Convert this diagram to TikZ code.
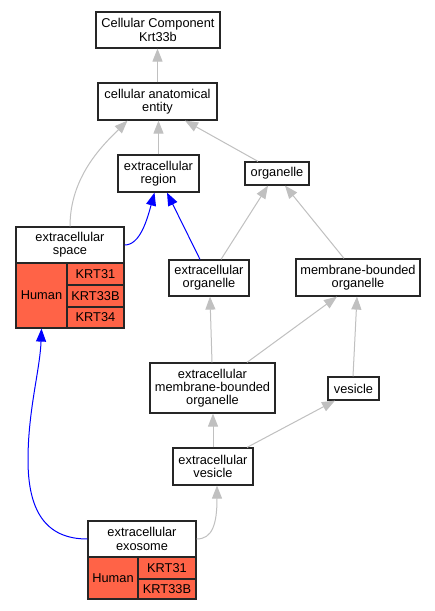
\documentclass[tikz,border=0pt]{standalone}
\usepackage{fontspec}
\setmainfont{Liberation Sans}
\usetikzlibrary{arrows.meta}
\definecolor{tomato}{HTML}{FF6347}
\definecolor{edgegray}{HTML}{C0C0C0}
\begin{document}
\begin{tikzpicture}[x=1pt,y=-1pt,
  box/.style={draw=black!85, line width=1.2pt, fill=white, inner sep=0pt, align=center,
    font=\fontsize{12.8pt}{13.2pt}\selectfont},
  cell/.style={box, fill=tomato},
  tip/.style={-{Triangle[length=13pt,width=10pt]}},
  gedge/.style={draw=edgegray, line width=1pt, tip},
  bedge/.style={draw=blue, line width=1pt, tip},
]
\path[fill=white] (0,0) rectangle (435,611);
\useasboundingbox (0,0) rectangle (435,611);

% nodes
\node[box, minimum width=124pt, minimum height=36pt] (top) at (158,30) {Cellular Component\\Krt33b};
\node[box, minimum width=119pt, minimum height=37pt] (cae) at (157.5,101.5) {cellular anatomical\\entity};
\node[box, minimum width=81pt, minimum height=37pt] (er) at (158.5,173.5) {extracellular\\region};
\node[box, minimum width=64pt, minimum height=23pt] (org) at (277,173.5) {organelle};

\node[box, minimum width=108pt, minimum height=36pt] (es) at (70,245) {extracellular\\space};
\node[cell, minimum width=51pt, minimum height=65pt] (eshum) at (41.5,295.5) {Human};
\node[cell, minimum width=57pt, minimum height=22pt] (esk1) at (95.5,274) {KRT31};
\node[cell, minimum width=57pt, minimum height=22pt] (esk2) at (95.5,296) {KRT33B};
\node[cell, minimum width=57pt, minimum height=21pt] (esk3) at (95.5,317.5) {KRT34};

\node[box, minimum width=80pt, minimum height=36pt] (eo) at (209,278) {extracellular\\organelle};
\node[box, minimum width=124pt, minimum height=37pt] (mbo) at (358,277.5) {membrane-bounded\\organelle};
\node[box, minimum width=125pt, minimum height=50pt] (embo) at (212.5,388) {extracellular\\membrane-bounded\\organelle};
\node[box, minimum width=51pt, minimum height=23pt] (ves) at (353.5,388.5) {vesicle};
\node[box, minimum width=80pt, minimum height=37pt] (ev) at (213,466.5) {extracellular\\vesicle};

\node[box, minimum width=108pt, minimum height=36pt] (exo) at (142,539) {extracellular\\exosome};
\node[cell, minimum width=50pt, minimum height=42pt] (exohum) at (113,578) {Human};
\node[cell, minimum width=58pt, minimum height=22pt] (exok1) at (167,568) {KRT31};
\node[cell, minimum width=58pt, minimum height=20pt] (exok2) at (167,589) {KRT33B};

% edges
\draw[gedge] (cae.north) -- (cae.north |- top.south);
\draw[gedge] (er.north) -- (er.north |- cae.south);
\draw[gedge] ([xshift=-19pt]org.north) -- ([xshift=27.5pt]cae.south);
\draw[gedge] (es.north) .. controls +(0,-50) and (103,145) .. ([xshift=-30pt]cae.south);
\draw[bedge] (es.east) .. controls (140,245) and (147,220) .. ([xshift=-4pt]er.south);
\draw[bedge] ([xshift=-9pt]eo.north) -- ([xshift=8.5pt]er.south);
\draw[gedge] ([xshift=12pt]eo.north) -- ([xshift=-9pt]org.south);
\draw[gedge] ([xshift=-14pt]mbo.north) -- ([xshift=8pt]org.south);
\draw[gedge] ([xshift=-0.5pt]embo.north) -- ([xshift=1pt]eo.south);
\draw[gedge] ([xshift=34.5pt]embo.north) -- ([xshift=-21pt]mbo.south);
\draw[gedge] ([xshift=-0.5pt]ves.north) -- ([xshift=-1pt]mbo.south);
\draw[gedge] (ev.north) -- (ev.north |- embo.south);
\draw[gedge] ([xshift=34pt]ev.north) -- ([xshift=-18.5pt]ves.south);
\draw[gedge] (exo.east) .. controls (212,539) and (217,525) .. ([xshift=4pt]ev.south);
\draw[bedge] (exo.west) .. controls (45,539) and (28,510) .. (28,460) .. controls (28,410) and (40,370) .. (eshum.south);
\end{tikzpicture}
\end{document}
